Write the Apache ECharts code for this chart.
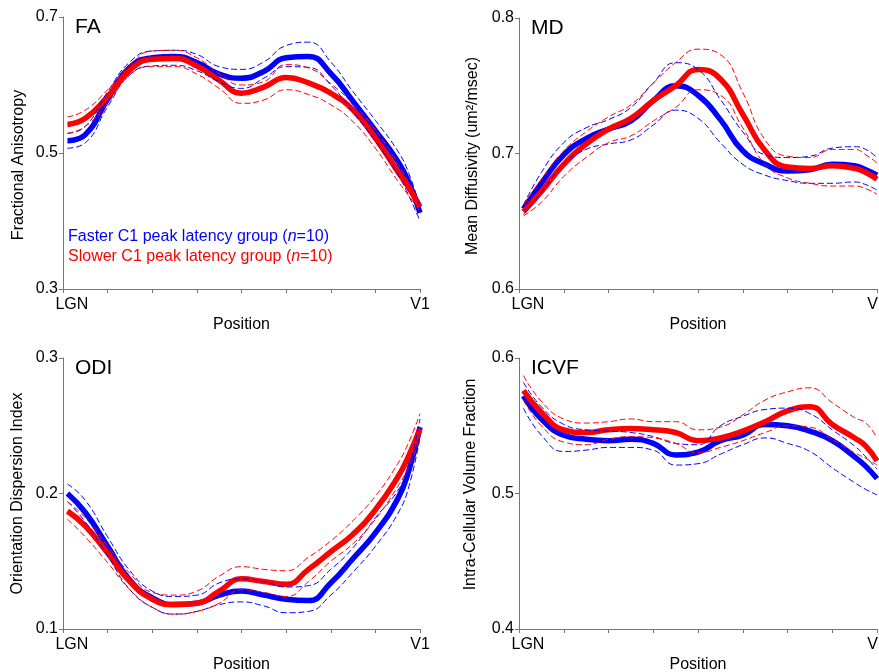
<!DOCTYPE html>
<html>
<head>
<meta charset="utf-8">
<script src="https://cdn.jsdelivr.net/npm/echarts@6/dist/echarts.min.js"></script>
<style>
html,body{margin:0;padding:0;background:#fff;}
#chart{width:879px;height:672px;}
</style>
</head>
<body>
<div id="chart"></div>
<script>
// Sample positions along the tract (LGN = 0, V1 = 8)
const positions = [0.1, 0.5, 1, 1.5, 2, 2.5, 3, 3.5, 4, 4.5, 5, 5.5, 6, 6.5, 7, 7.5, 7.75, 8];
const xTickLabels = ['LGN', 'V1'];
const xLabelPositions = [0.2, 8];

// FA
const faFasterMean  = [0.518, 0.527, 0.579, 0.626, 0.640, 0.642, 0.633, 0.616, 0.610, 0.620, 0.640, 0.642, 0.617, 0.576, 0.533, 0.488, 0.457, 0.412];
const faFasterUpper = [0.529, 0.539, 0.590, 0.634, 0.650, 0.651, 0.645, 0.627, 0.623, 0.634, 0.658, 0.663, 0.634, 0.590, 0.548, 0.503, 0.470, 0.420];
const faFasterLower = [0.507, 0.515, 0.568, 0.615, 0.628, 0.629, 0.621, 0.605, 0.595, 0.610, 0.627, 0.626, 0.600, 0.560, 0.517, 0.469, 0.437, 0.400];
const faSlowerMean  = [0.542, 0.551, 0.583, 0.622, 0.638, 0.639, 0.628, 0.607, 0.588, 0.597, 0.611, 0.603, 0.588, 0.563, 0.522, 0.473, 0.449, 0.421];
const faSlowerUpper = [0.553, 0.563, 0.593, 0.629, 0.650, 0.651, 0.640, 0.617, 0.600, 0.605, 0.630, 0.625, 0.602, 0.572, 0.534, 0.484, 0.456, 0.427];
const faSlowerLower = [0.529, 0.539, 0.573, 0.615, 0.627, 0.627, 0.616, 0.595, 0.573, 0.578, 0.593, 0.586, 0.571, 0.546, 0.507, 0.459, 0.437, 0.414];

// MD
const mdFasterMean  = [0.659, 0.678, 0.699, 0.711, 0.718, 0.724, 0.739, 0.750, 0.743, 0.725, 0.702, 0.692, 0.687, 0.688, 0.692, 0.691, 0.688, 0.684];
const mdFasterUpper = [0.662, 0.686, 0.708, 0.719, 0.725, 0.734, 0.752, 0.767, 0.762, 0.740, 0.716, 0.699, 0.697, 0.698, 0.704, 0.705, 0.703, 0.697];
const mdFasterLower = [0.655, 0.671, 0.692, 0.703, 0.707, 0.710, 0.721, 0.732, 0.726, 0.708, 0.692, 0.684, 0.680, 0.678, 0.678, 0.679, 0.677, 0.673];
const mdSlowerMean  = [0.657, 0.672, 0.692, 0.707, 0.718, 0.726, 0.739, 0.750, 0.762, 0.755, 0.729, 0.702, 0.690, 0.689, 0.691, 0.689, 0.686, 0.681];
const mdSlowerUpper = [0.662, 0.681, 0.702, 0.716, 0.727, 0.736, 0.752, 0.767, 0.777, 0.773, 0.745, 0.710, 0.698, 0.697, 0.703, 0.703, 0.699, 0.693];
const mdSlowerLower = [0.654, 0.664, 0.683, 0.697, 0.708, 0.713, 0.724, 0.734, 0.747, 0.743, 0.719, 0.692, 0.682, 0.678, 0.676, 0.676, 0.674, 0.670];

// ODI
const odiFasterMean  = [0.200, 0.186, 0.161, 0.136, 0.123, 0.118, 0.119, 0.125, 0.128, 0.125, 0.122, 0.121, 0.134, 0.152, 0.171, 0.196, 0.217, 0.249];
const odiFasterUpper = [0.207, 0.195, 0.168, 0.143, 0.128, 0.124, 0.125, 0.134, 0.137, 0.135, 0.131, 0.132, 0.144, 0.160, 0.182, 0.202, 0.220, 0.255];
const odiFasterLower = [0.194, 0.179, 0.154, 0.129, 0.116, 0.111, 0.113, 0.118, 0.120, 0.117, 0.112, 0.113, 0.125, 0.142, 0.161, 0.185, 0.205, 0.242];
const odiSlowerMean  = [0.187, 0.176, 0.156, 0.135, 0.122, 0.118, 0.119, 0.128, 0.137, 0.135, 0.133, 0.144, 0.157, 0.170, 0.188, 0.212, 0.228, 0.248];
const odiSlowerUpper = [0.194, 0.182, 0.161, 0.141, 0.127, 0.125, 0.128, 0.139, 0.146, 0.144, 0.143, 0.153, 0.165, 0.180, 0.198, 0.222, 0.238, 0.259];
const odiSlowerLower = [0.181, 0.168, 0.149, 0.129, 0.116, 0.111, 0.113, 0.119, 0.129, 0.127, 0.124, 0.135, 0.150, 0.163, 0.181, 0.205, 0.220, 0.239];

// ICVF
const icvfFasterMean  = [0.572, 0.555, 0.543, 0.540, 0.539, 0.540, 0.537, 0.5285, 0.5305, 0.539, 0.543, 0.551, 0.550, 0.546, 0.539, 0.527, 0.520, 0.511];
const icvfFasterUpper = [0.582, 0.564, 0.551, 0.547, 0.546, 0.545, 0.542, 0.537, 0.536, 0.550, 0.557, 0.562, 0.563, 0.559, 0.547, 0.535, 0.527, 0.518];
const icvfFasterLower = [0.563, 0.543, 0.531, 0.532, 0.534, 0.534, 0.532, 0.521, 0.522, 0.529, 0.536, 0.541, 0.537, 0.531, 0.519, 0.508, 0.503, 0.499];
const icvfSlowerMean  = [0.576, 0.560, 0.547, 0.545, 0.547, 0.548, 0.547, 0.545, 0.539, 0.541, 0.546, 0.553, 0.561, 0.564, 0.551, 0.541, 0.535, 0.524];
const icvfSlowerUpper = [0.587, 0.568, 0.555, 0.552, 0.553, 0.555, 0.553, 0.553, 0.547, 0.549, 0.558, 0.569, 0.575, 0.578, 0.567, 0.556, 0.552, 0.541];
const icvfSlowerLower = [0.569, 0.550, 0.538, 0.536, 0.540, 0.542, 0.541, 0.537, 0.530, 0.534, 0.539, 0.545, 0.550, 0.549, 0.540, 0.530, 0.526, 0.521];

// Y ticks
const faTicks = [0.3, 0.5, 0.7];
const mdTicks = [0.6, 0.7, 0.8];
const odiTicks = [0.1, 0.2, 0.3];
const icvfTicks = [0.4, 0.5, 0.6];

const panelTitles = ['FA', 'MD', 'ODI', 'ICVF'];
const yNames = ['Fractional Anisotropy', 'Mean Diffusivity (um\u00B2/msec)', 'Orientation Dispersion Index', 'Intra-Cellular Volume Fraction'];
const legendLines = ['Faster C1 peak latency group', 'Slower C1 peak latency group'];

const FONT = '"Liberation Sans", Arial, Helvetica, sans-serif';
const BLUE = '#0000ff', RED = '#ff0000', AXIS = '#767676';

const panels = [
  {ticks: faTicks, data: [faFasterMean, faFasterUpper, faFasterLower, faSlowerMean, faSlowerUpper, faSlowerLower], grid: {left: 63, top: 17, width: 357, height: 272}, namePad: [0, 24, 0, 0], nameGap: 36},
  {ticks: mdTicks, data: [mdFasterMean, mdFasterUpper, mdFasterLower, mdSlowerMean, mdSlowerUpper, mdSlowerLower], grid: {left: 519, top: 18, width: 358, height: 271}, namePad: [0, 5, 0, 0], nameGap: 38},
  {ticks: odiTicks, data: [odiFasterMean, odiFasterUpper, odiFasterLower, odiSlowerMean, odiSlowerUpper, odiSlowerLower], grid: {left: 63, top: 358, width: 357, height: 271}, namePad: [0, 0, 0, 0], nameGap: 37},
  {ticks: icvfTicks, data: [icvfFasterMean, icvfFasterUpper, icvfFasterLower, icvfSlowerMean, icvfSlowerUpper, icvfSlowerLower], grid: {left: 519, top: 358, width: 358, height: 271}, namePad: [0, 0, 0, 18], nameGap: 40}
];

const grid = [], xAxis = [], yAxis = [], series = [], title = [];

panels.forEach((p, i) => {
  grid.push(Object.assign({containLabel: false, outerBoundsMode: 'none'}, p.grid));
  xAxis.push({
    type: 'value', gridIndex: i, min: 0, max: 8, interval: 1,
    axisLine: {show: true, lineStyle: {color: AXIS, width: 1}},
    axisTick: {show: true, inside: false, length: 4, lineStyle: {color: AXIS}},
    axisLabel: {
      customValues: xLabelPositions, margin: 8, hideOverlap: false,
      formatter: v => (v < 4 ? xTickLabels[0] : xTickLabels[1]),
      color: '#000', fontSize: 16, fontFamily: FONT
    },
    splitLine: {show: false},
    name: 'Position', nameLocation: 'middle', nameGap: 28,
    nameTextStyle: {color: '#000', fontSize: 16, fontFamily: FONT}
  });
  yAxis.push({
    type: 'value', gridIndex: i, min: p.ticks[0], max: p.ticks[p.ticks.length - 1],
    axisLine: {show: true, lineStyle: {color: AXIS, width: 1}},
    axisTick: {show: true, inside: false, length: 4, customValues: p.ticks, lineStyle: {color: AXIS}},
    axisLabel: {
      customValues: p.ticks, margin: 5,
      formatter: v => String(Math.round(v * 10) / 10),
      color: '#000', fontSize: 16, fontFamily: FONT
    },
    splitLine: {show: false},
    name: yNames[i], nameLocation: 'middle', nameGap: p.nameGap,
    nameTextStyle: {color: '#000', fontSize: 16, fontFamily: FONT, padding: p.namePad}
  });
  const mk = (arr) => positions.map((x, k) => [x, arr[k]]);
  const [fm, fu, fl, sm, su, sl] = p.data;
  const mean = (arr, color, name) => ({
    type: 'line', name, xAxisIndex: i, yAxisIndex: i, data: mk(arr),
    smooth: 0.5, showSymbol: false, symbol: 'none',
    lineStyle: {color, width: 5.5, cap: 'butt'}, z: 3
  });
  const band = (arr, color) => ({
    type: 'line', xAxisIndex: i, yAxisIndex: i, data: mk(arr),
    smooth: 0.5, showSymbol: false, symbol: 'none',
    lineStyle: {color, width: 1, type: [6, 3]}, z: 4
  });
  series.push(mean(fm, BLUE, 'Faster'), mean(sm, RED, 'Slower'));
  series.push(band(fu, BLUE), band(fl, BLUE), band(su, RED), band(sl, RED));
  title.push({
    text: panelTitles[i], left: p.grid.left + 12, top: p.grid.top, padding: 0,
    textStyle: {color: '#000', fontSize: 21, fontWeight: 'normal', fontFamily: FONT}
  });
});

const legendTitle = (text, color, top) => ({
  text: '{a|' + text + ' (}{b|n}{a|=10)}', left: 68, top, padding: 0,
  textStyle: {fontWeight: 'normal', rich: {
    a: {color, fontSize: 16, fontFamily: FONT, fontWeight: 'normal'},
    b: {color, fontSize: 16, fontFamily: FONT, fontWeight: 'normal', fontStyle: 'italic'}
  }}
});
title.push(legendTitle(legendLines[0], BLUE, 229));
title.push(legendTitle(legendLines[1], RED, 249));

const chart = echarts.init(document.getElementById('chart'), null, {renderer: 'canvas'});
chart.setOption({
  animation: false,
  backgroundColor: '#fff',
  title, grid, xAxis, yAxis, series
});
</script>
</body>
</html>
